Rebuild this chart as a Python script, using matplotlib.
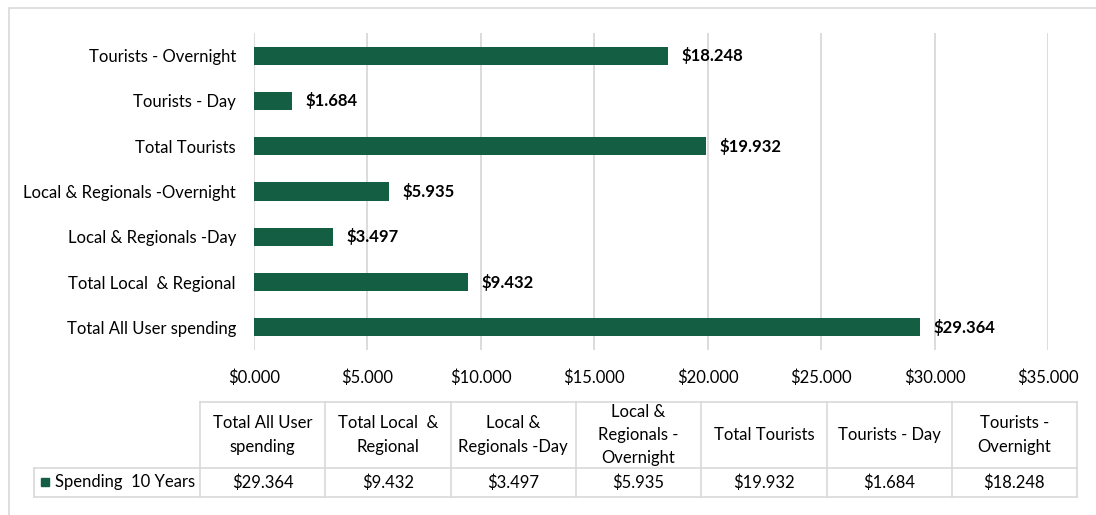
import matplotlib.pyplot as plt
from matplotlib.patches import Rectangle
from matplotlib.lines import Line2D
from matplotlib.ticker import FuncFormatter, MultipleLocator

plt.rcParams['font.family'] = ['Lato', 'DejaVu Sans']

categories = ['Total All User spending', 'Total Local  & Regional',
              'Local & Regionals -Day', 'Local & Regionals -Overnight',
              'Total Tourists', 'Tourists - Day', 'Tourists - Overnight']
headers = ['Total All User\nspending', 'Total Local  &\nRegional',
           'Local &\nRegionals -Day', 'Local &\nRegionals -\nOvernight',
           'Total Tourists', 'Tourists - Day', 'Tourists -\nOvernight']
spending = [29.364, 9.432, 3.497, 5.935, 19.932, 1.684, 18.248]
series_name = 'Spending  10 Years'

green = '#145F43'
grid = '#D9D9D9'
W, H = 1096, 515
fs = 12

fig = plt.figure(figsize=(W / 100, H / 100), dpi=100)

def fx(px):
    return px / W

def fy(py):
    return 1 - py / H

# outer chart frame (runs off the right and bottom edges)
fig.patches.append(Rectangle((fx(9), fy(530)), fx(1100), (530 - 8) / H,
                             transform=fig.transFigure,
                             fill=False, edgecolor=grid, linewidth=1.2))

ax = fig.add_axes([fx(254), fy(350), fx(1048 - 254), (350 - 33) / H])
ypos = range(len(categories))
ax.barh(ypos, spending, height=0.4, color=green)
for y, v in zip(ypos, spending):
    ax.text(v + 0.6, y, f'${v:.3f}', va='center', ha='left',
            fontsize=fs, fontweight='bold')

ax.set_xlim(0, 35)
ax.set_ylim(-0.5, len(categories) - 0.5)
ax.xaxis.set_major_locator(MultipleLocator(5))
ax.xaxis.set_major_formatter(FuncFormatter(lambda v, p: f'${v:.3f}'))
ax.set_yticks(list(ypos))
ax.set_yticklabels(categories)
ax.tick_params(axis='both', length=0, labelsize=fs)
ax.tick_params(axis='x', pad=14)
ax.tick_params(axis='y', pad=13)
ax.grid(axis='x', color=grid, linewidth=1.3)
ax.set_axisbelow(True)
for s in ax.spines.values():
    s.set_visible(False)

# data table under the chart
col_x = [200 + i * 125.3 for i in range(len(headers) + 1)]
top, mid, bot = 402, 468, 497
lw = 1.2
lines = [
    ((col_x[0], col_x[-1]), (top, top)),
    ((34, col_x[-1]), (mid, mid)),
    ((34, col_x[-1]), (bot, bot)),
    ((34, 34), (mid, bot)),
]
for x in col_x:
    lines.append(((x, x), (top, bot)))
for xs, ys in lines:
    fig.add_artist(Line2D([fx(x) for x in xs], [fy(y) for y in ys],
                          color=grid, linewidth=lw))

for i, (h, v) in enumerate(zip(headers, spending)):
    cx = (col_x[i] + col_x[i + 1]) / 2
    fig.text(fx(cx), fy((top + mid) / 2), h, ha='center', va='center',
             fontsize=fs, linespacing=1.55)
    fig.text(fx(cx), fy((mid + bot) / 2), f'${v:.3f}', ha='center', va='center',
             fontsize=fs)

fig.patches.append(Rectangle((fx(41), fy(486)), fx(8), 8 / H, transform=fig.transFigure,
                             color=green))
fig.text(fx(55), fy((mid + bot) / 2), series_name, ha='left', va='center', fontsize=fs)

fig.savefig('out.png', dpi=100, facecolor='white')
